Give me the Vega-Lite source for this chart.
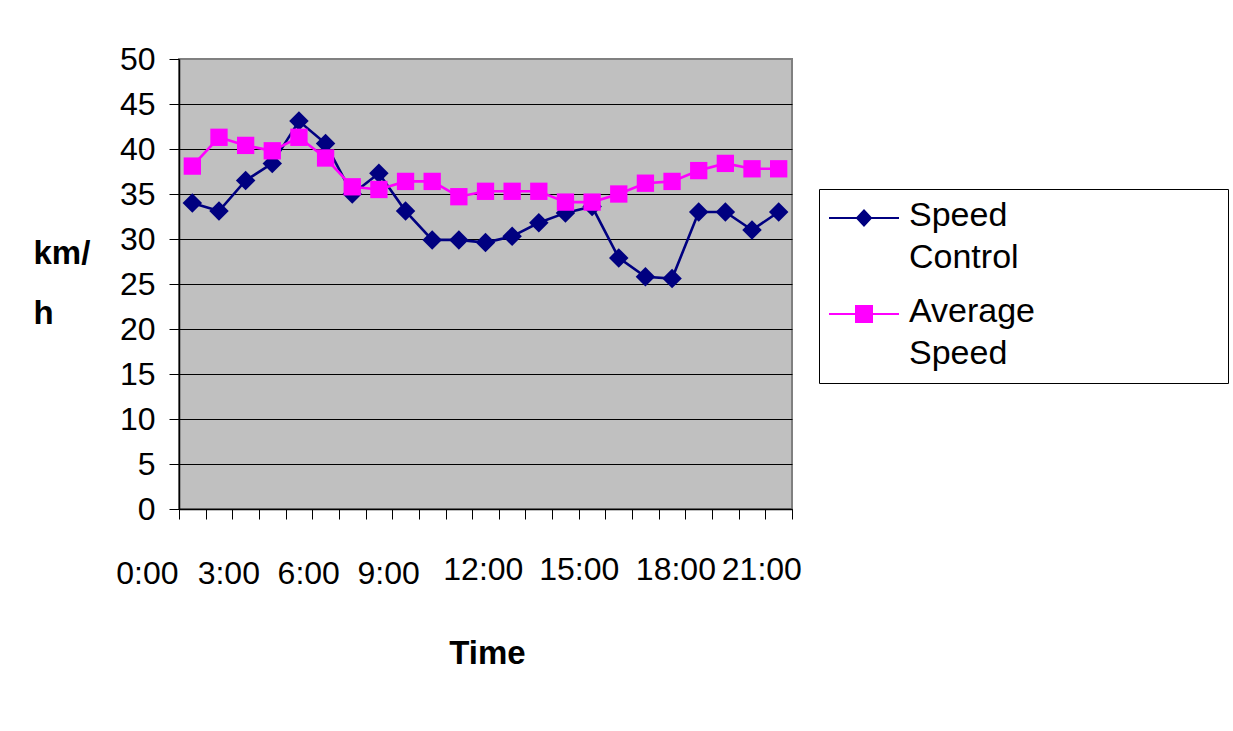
{
  "$schema": "https://vega.github.io/schema/vega-lite/v6.json",
  "width": 613,
  "height": 450,
  "autosize": {"type": "none"},
  "padding": {"left": 179, "top": 59, "right": 441, "bottom": 222},
  "background": "white",
  "config": {
    "font": "Liberation Sans",
    "view": {"fill": "#C0C0C0", "stroke": "#808080", "strokeWidth": 2},
    "axis": {"labelColor": "black", "titleColor": "black", "domainColor": "black", "tickColor": "black", "labelFont": "Liberation Sans", "titleFont": "Liberation Sans"}
  },
  "data": {
    "values": [
      {"hour": 0, "series": "Speed Control", "speed": 34.0},
      {"hour": 1, "series": "Speed Control", "speed": 33.1},
      {"hour": 2, "series": "Speed Control", "speed": 36.5},
      {"hour": 3, "series": "Speed Control", "speed": 38.4},
      {"hour": 4, "series": "Speed Control", "speed": 43.1},
      {"hour": 5, "series": "Speed Control", "speed": 40.6},
      {"hour": 6, "series": "Speed Control", "speed": 35.0},
      {"hour": 7, "series": "Speed Control", "speed": 37.3},
      {"hour": 8, "series": "Speed Control", "speed": 33.1},
      {"hour": 9, "series": "Speed Control", "speed": 29.9},
      {"hour": 10, "series": "Speed Control", "speed": 29.9},
      {"hour": 11, "series": "Speed Control", "speed": 29.6},
      {"hour": 12, "series": "Speed Control", "speed": 30.3},
      {"hour": 13, "series": "Speed Control", "speed": 31.8},
      {"hour": 14, "series": "Speed Control", "speed": 32.9},
      {"hour": 15, "series": "Speed Control", "speed": 33.6},
      {"hour": 16, "series": "Speed Control", "speed": 27.9},
      {"hour": 17, "series": "Speed Control", "speed": 25.8},
      {"hour": 18, "series": "Speed Control", "speed": 25.6},
      {"hour": 19, "series": "Speed Control", "speed": 33.0},
      {"hour": 20, "series": "Speed Control", "speed": 33.0},
      {"hour": 21, "series": "Speed Control", "speed": 31.0},
      {"hour": 22, "series": "Speed Control", "speed": 33.0},
      {"hour": 0, "series": "Average Speed", "speed": 38.1},
      {"hour": 1, "series": "Average Speed", "speed": 41.3},
      {"hour": 2, "series": "Average Speed", "speed": 40.4},
      {"hour": 3, "series": "Average Speed", "speed": 39.8},
      {"hour": 4, "series": "Average Speed", "speed": 41.3},
      {"hour": 5, "series": "Average Speed", "speed": 39.0},
      {"hour": 6, "series": "Average Speed", "speed": 35.8},
      {"hour": 7, "series": "Average Speed", "speed": 35.5},
      {"hour": 8, "series": "Average Speed", "speed": 36.4},
      {"hour": 9, "series": "Average Speed", "speed": 36.4},
      {"hour": 10, "series": "Average Speed", "speed": 34.7},
      {"hour": 11, "series": "Average Speed", "speed": 35.3},
      {"hour": 12, "series": "Average Speed", "speed": 35.3},
      {"hour": 13, "series": "Average Speed", "speed": 35.3},
      {"hour": 14, "series": "Average Speed", "speed": 34.1},
      {"hour": 15, "series": "Average Speed", "speed": 34.1},
      {"hour": 16, "series": "Average Speed", "speed": 35.0},
      {"hour": 17, "series": "Average Speed", "speed": 36.2},
      {"hour": 18, "series": "Average Speed", "speed": 36.4},
      {"hour": 19, "series": "Average Speed", "speed": 37.6},
      {"hour": 20, "series": "Average Speed", "speed": 38.4},
      {"hour": 21, "series": "Average Speed", "speed": 37.8},
      {"hour": 22, "series": "Average Speed", "speed": 37.8}
    ]
  },
  "encoding": {
    "x": {
      "field": "hour",
      "type": "quantitative",
      "scale": {"domain": [-0.5, 22.5], "nice": false, "zero": false},
      "axis": {
        "values": [-0.5, 0.5, 1.5, 2.5, 3.5, 4.5, 5.5, 6.5, 7.5, 8.5, 9.5, 10.5, 11.5, 12.5, 13.5, 14.5, 15.5, 16.5, 17.5, 18.5, 19.5, 20.5, 21.5, 22.5],
        "grid": false,
        "tickSize": 10,
        "tickWidth": 1,
        "domainWidth": 1.5,
        "labelOverlap": false,
        "labelFontSize": 32,
        "labelBaseline": "alphabetic",
        "labelPadding": {"condition": {"test": "datum.value > 10", "value": 60}, "value": 64},
        "labelOffset": {"condition": [
          {"test": "datum.value == -0.5", "value": -1},
          {"test": "datum.value == 11.5", "value": -16},
          {"test": "datum.value == 14.5", "value": 0},
          {"test": "datum.value == 18.5", "value": -10}
        ], "value": -4},
        "labelAlign": {"condition": {"test": "datum.value == -0.5", "value": "right"}, "value": "center"},
        "labelExpr": "datum.value == -0.5 ? '0:00' : datum.value == 1.5 ? '3:00' : datum.value == 4.5 ? '6:00' : datum.value == 7.5 ? '9:00' : datum.value == 11.5 ? '12:00' : datum.value == 14.5 ? '15:00' : datum.value == 18.5 ? '18:00' : datum.value == 21.5 ? '21:00' : ''",
        "title": "Time",
        "titleFontSize": 33,
        "titleFontWeight": "bold",
        "titleBaseline": "alphabetic",
        "titleAlign": "center",
        "titleX": 308,
        "titleY": 154
      }
    },
    "y": {
      "field": "speed",
      "type": "quantitative",
      "scale": {"domain": [0, 50], "nice": false, "zero": true},
      "axis": {
        "values": [0, 5, 10, 15, 20, 25, 30, 35, 40, 45, 50],
        "grid": true,
        "gridColor": {"condition": {"test": "datum.value == 50", "value": "#808080"}, "value": "black"},
        "gridWidth": 1,
        "tickSize": 10,
        "domainWidth": 1.5,
        "labelFontSize": 32,
        "labelPadding": 14,
        "title": ["km/", "h"],
        "titleFontSize": 33,
        "titleFontWeight": "bold",
        "titleAngle": 0,
        "titleAlign": "left",
        "titleBaseline": "alphabetic",
        "titleLineHeight": 60,
        "titleX": -146,
        "titleY": 204
      }
    },
    "color": {
      "field": "series",
      "type": "nominal",
      "scale": {"domain": ["Speed Control", "Average Speed"], "range": ["#000080", "#FF00FF"]},
      "legend": {
        "orient": "none",
        "legendX": 640,
        "legendY": 130,
        "title": "\u00a0",
        "titleOrient": "right",
        "titlePadding": 181,
        "strokeColor": "black",
        "fillColor": "white",
        "padding": 12,
        "rowPadding": 20,
        "labelFontSize": 34,
        "labelColor": "black",
        "labelOffset": 28,
        "labelLimit": 300,
        "labelBaseline": "alphabetic",
        "symbolSize": 400,
        "symbolOffset": 16,
        "symbolStrokeWidth": 2,
        "labelExpr": "datum.label == 'Speed Control' ? ['Speed', 'Control'] : ['Average', 'Speed']",
        "encode": {
          "symbols": {
            "update": {
              "shape": {"signal": "datum.value == 'Speed Control' ? 'M-3.5,0H3.5M0,-0.75L0.7,0L0,0.75L-0.7,0Z' : 'M-3.5,0H3.5M-0.8,-0.8H0.8V0.8H-0.8Z'"},
              "fill": {"signal": "datum.value == 'Speed Control' ? '#000080' : '#FF00FF'"},
              "stroke": {"signal": "datum.value == 'Speed Control' ? '#000080' : '#FF00FF'"},
              "strokeWidth": {"value": 2},
              "opacity": {"value": 1}
            }
          },
          "labels": {
            "update": {
              "lineHeight": {"value": 42},
              "dy": {"value": 8}
            }
          }
        }
      }
    }
  },
  "layer": [
    {
      "transform": [{"filter": "datum.series == 'Speed Control'"}],
      "mark": {"type": "line", "strokeWidth": 2.6}
    },
    {
      "transform": [{"filter": "datum.series == 'Speed Control'"}],
      "mark": {"type": "point", "shape": "diamond", "filled": true, "size": 380, "opacity": 1}
    },
    {
      "transform": [{"filter": "datum.series == 'Average Speed'"}],
      "mark": {"type": "line", "strokeWidth": 2.6}
    },
    {
      "transform": [{"filter": "datum.series == 'Average Speed'"}],
      "mark": {"type": "point", "shape": "square", "filled": true, "size": 300, "opacity": 1}
    }
  ]
}
